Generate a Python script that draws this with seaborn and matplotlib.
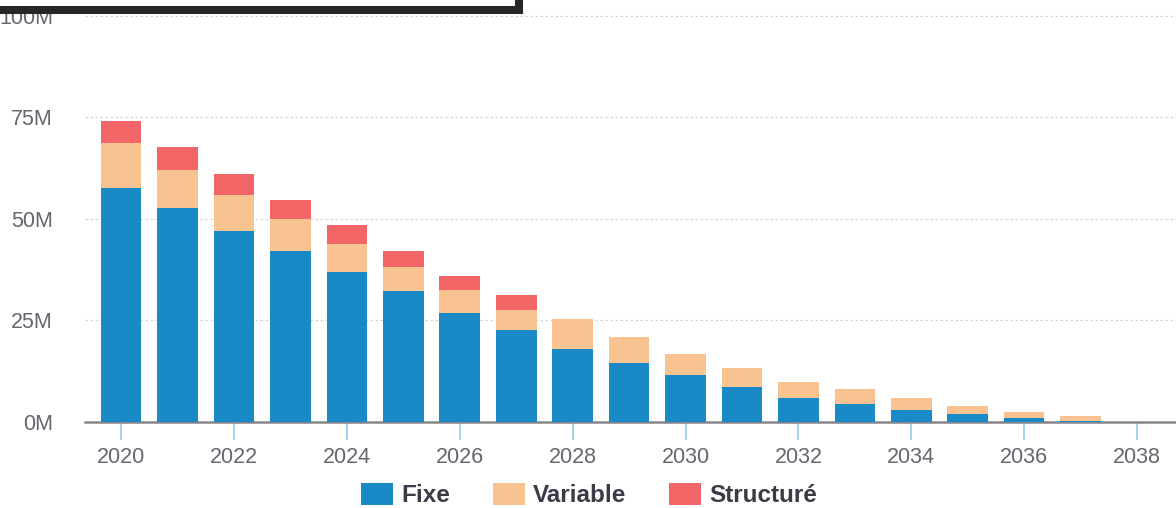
import matplotlib
matplotlib.use("Agg")
import matplotlib.pyplot as plt
from matplotlib.patches import Patch, Rectangle
from matplotlib.ticker import FuncFormatter, MultipleLocator
import numpy as np
import pandas as pd
import seaborn as sns

# Outstanding debt by rate type, in millions
years = list(range(2020, 2039))
fixe = [57.6, 52.6, 47.0, 42.1, 36.8, 32.1, 26.9, 22.5, 17.9, 14.5,
        11.5, 8.5, 5.9, 4.4, 2.9, 2.0, 1.0, 0.1, 0.0]
variable = [11.0, 9.4, 8.8, 7.8, 7.1, 5.9, 5.6, 5.0, 7.5, 6.4,
            5.3, 4.7, 3.9, 3.6, 3.0, 1.75, 1.45, 1.4, 0.0]
structure = [5.6, 5.6, 5.3, 4.7, 4.6, 4.1, 3.5, 3.6, 0.0, 0.0,
             0.0, 0.0, 0.0, 0.0, 0.0, 0.0, 0.0, 0.0, 0.0]
series_names = ["Fixe", "Variable", "Structuré"]
colors = {"Fixe": "#1a8ac6", "Variable": "#f8c391", "Structuré": "#f26668"}

df = pd.DataFrame({"year": years, "Fixe": fixe, "Variable": variable, "Structuré": structure})
# cumulative heights for stacking (top layer drawn first, lower layers over it)
df["top_fixe"] = df["Fixe"]
df["top_variable"] = df["Fixe"] + df["Variable"]
df["top_structure"] = df["top_variable"] + df["Structuré"]

sns.set_theme(style="white")
plt.rcParams["font.family"] = ["Liberation Sans", "DejaVu Sans"]

W, H = 1176, 508
fig = plt.figure(figsize=(W / 100, H / 100), dpi=100)
fig.patch.set_facecolor("white")
ax = fig.add_axes([85 / W, 86.3 / H, 1 - 85 / W, 1 - 86.3 / H])

for col, name in [("top_structure", "Structuré"), ("top_variable", "Variable"), ("top_fixe", "Fixe")]:
    sns.barplot(data=df, x="year", y=col, native_scale=True, width=0.72,
                color=colors[name], saturation=1, linewidth=0, ax=ax, zorder=3)

ax.set_xlim(2019.36, 2038.69)
ax.set_ylim(0, 103.9)
ax.set_xlabel("")
ax.set_ylabel("")

ax.xaxis.set_major_locator(MultipleLocator(2))
ax.xaxis.set_major_formatter(FuncFormatter(lambda v, p: f"{int(round(v))}"))
ax.yaxis.set_major_locator(MultipleLocator(25))
ax.yaxis.set_major_formatter(FuncFormatter(lambda v, p: f"{int(v)}M"))

ax.tick_params(axis="x", colors="#8fcdee", length=13, width=1.2, pad=5,
               labelcolor="#666670", labelsize=15.5, bottom=True)
ax.tick_params(axis="y", length=0, pad=23, labelcolor="#666670", labelsize=15.5)

for s in ["top", "right", "left"]:
    ax.spines[s].set_visible(False)
ax.spines["bottom"].set_color("#85858c")
ax.spines["bottom"].set_linewidth(1.8)
ax.spines["bottom"].set_zorder(2)

ax.yaxis.grid(True, color="#d4d4de", linestyle=(0, (2, 2)), linewidth=0.9, zorder=0)
ax.xaxis.grid(False)
ax.set_axisbelow(True)

handles = [Patch(facecolor=colors[n], edgecolor="none", label=n) for n in series_names]
fig.legend(handles=handles, loc="center", bbox_to_anchor=(589 / W, 1 - 495 / H),
           ncol=3, frameon=False, handlelength=1.32, handleheight=1.0,
           handletextpad=0.35, columnspacing=1.75,
           prop={"family": "Liberation Sans", "weight": "bold", "size": 17.5},
           labelcolor="#3a3a48")

# overlay panel whose lower edge crosses the top of the chart
fig.add_artist(Rectangle((-0.05, 1 - 10 / H), 519 / W + 0.05, 0.2,
                         transform=fig.transFigure, facecolor="white",
                         edgecolor="#262626", linewidth=5.8, zorder=10,
                         clip_on=False))

fig.savefig("out.png", dpi=100, facecolor="white")
